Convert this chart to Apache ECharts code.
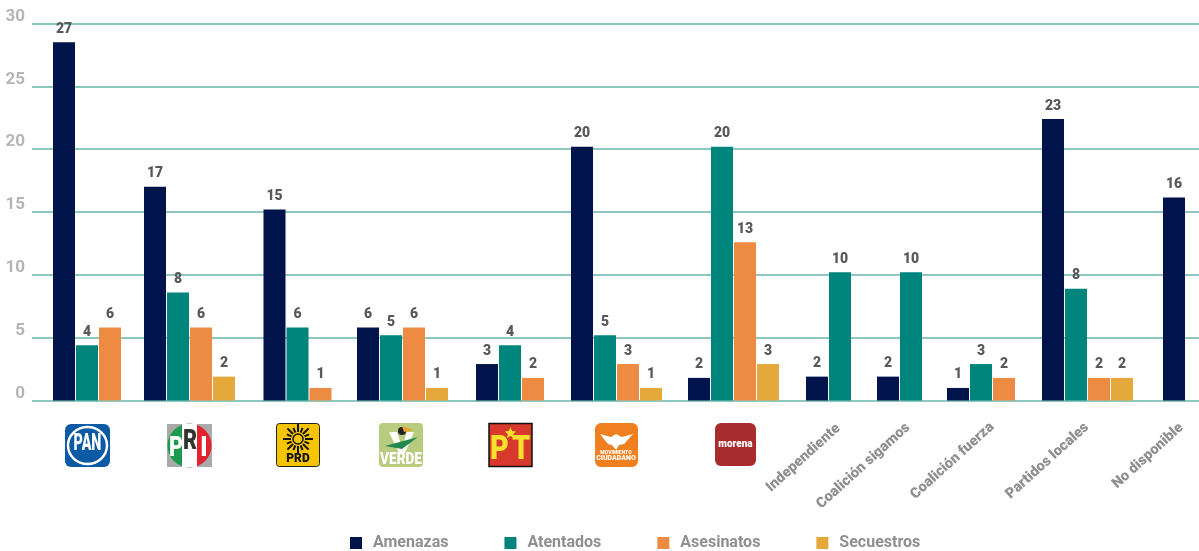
<!DOCTYPE html>
<html><head><meta charset="utf-8">
<style>html,body{margin:0;padding:0;background:#fff}#c{width:1199px;height:551px}</style>
<script src="https://cdn.jsdelivr.net/npm/echarts@6/dist/echarts.min.js"></script>
</head><body><div id="c"></div>
<script>
// Groups (parties / coalitions)
const categories = ['PAN','PRI','PRD','VERDE','PT','Movimiento Ciudadano','morena','Independiente','Coalición sigamos','Coalición fuerza','Partidos locales','No disponible'];
// Bar heights
const amenazas   = [28.5,17.0,15.2,5.8,2.9,20.2,1.8,1.9,1.9,1.0,22.4,16.15];
const atentados  = [4.4,8.6,5.8,5.2,4.4,5.2,20.2,10.2,10.2,2.9,8.9,null];
const asesinatos = [5.8,5.8,1.0,5.8,1.8,2.9,12.6,null,null,1.8,1.8,null];
const secuestros = [null,1.9,null,1.0,null,1.0,2.9,null,null,null,1.8,null];
// Values as printed above the bars
const amenazasPrinted   = [27,17,15,6,3,20,2,2,2,1,23,16];
const atentadosPrinted  = [4,8,6,5,4,5,20,10,10,3,8,null];
const asesinatosPrinted = [6,6,1,6,2,3,13,null,null,2,2,null];
const secuestrosPrinted = [null,2,null,1,null,1,3,null,null,null,2,null];
const yTicks = [0,5,10,15,20,25,30];

// Layout (x axis is a plain scale in which one unit = one pixel)
const groupStart = [53,144,263.5,357,476,571,688,806,877,947,1042,1163];
const pitch = 23, barW = 22;
const names = ['Amenazas','Atentados','Asesinatos','Secuestros'];
const colors = ['#00134a','#00857c','#ee8b43','#e5a93b'];
const heights = [amenazas,atentados,asesinatos,secuestros];
const printed = [amenazasPrinted,atentadosPrinted,asesinatosPrinted,secuestrosPrinted];

const seriesData = names.map(()=>[]);
categories.forEach((c,i)=>{
  let k=0;
  heights.forEach((h,s)=>{
    if(h[i]!=null){
      seriesData[s].push({value:[groupStart[i]+k*pitch+barW/2,h[i]],printed:printed[s][i]});
      k++;
    }
  });
});

const chart = echarts.init(document.getElementById('c'),null,{renderer:'canvas'});
const F='Roboto, sans-serif';
const deg=d=>d*Math.PI/180;

// Logo lettering; sx squeezes the letters horizontally to get the condensed look
function logoText(t,x,y,size,fill,sx){
  return {type:'text',silent:true,x:x,y:y,scaleX:sx||1,style:{text:t,fill:fill,font:'900 '+size+'px '+F,textAlign:'center',textVerticalAlign:'middle'}};
}
function rr(x,y,w,h,r,fill,extra){
  return {type:'rect',silent:true,shape:{x,y,width:w,height:h,r},style:Object.assign({fill},extra||{})};
}
const g=[];
// PAN
g.push(rr(65,424,45,43,6,'#0b5aa6'));
g.push({type:'ellipse',silent:true,shape:{cx:87.5,cy:445.5,rx:19.5,ry:18.5},style:{fill:'none',stroke:'#fff',lineWidth:2.5}});
g.push(logoText('PAN',87.5,444.5,23,'#fff',0.62));
// PRI
g.push(rr(167,424,45,43,0,'#a9a9aa'));
g.push({type:'sector',silent:true,shape:{cx:189.5,cy:445.5,r:22,startAngle:deg(90),endAngle:deg(270)},style:{fill:'#1d9a4e'}});
g.push({type:'sector',silent:true,shape:{cx:189.5,cy:445.5,r:22,startAngle:deg(-90),endAngle:deg(90)},style:{fill:'#e2222e'}});
g.push(rr(182,424,15,43,0,'#fff'));
g.push(logoText('P',176,449,27,'#fff',0.8));
g.push(logoText('R',190,442,27,'#33332e',0.8));
g.push(logoText('I',204,449,27,'#fff',0.9));
// PRD
g.push(rr(276.5,423.5,43,43,3,'#f6c400',{stroke:'#222',lineWidth:1}));
for(let a=0;a<16;a++){
  const r=deg(a*22.5);
  g.push({type:'line',silent:true,shape:{x1:298+7*Math.cos(r),y1:439+7*Math.sin(r),x2:298+(a%2?12:15)*Math.cos(r),y2:439+(a%2?12:15)*Math.sin(r)},style:{stroke:'#111',lineWidth:2}});
}
g.push({type:'circle',silent:true,shape:{cx:298,cy:439,r:5},style:{fill:'none',stroke:'#111',lineWidth:1.5}});
g.push(logoText('PRD',298,459,12,'#111'));
// VERDE
g.push(rr(379,423,44,44,4,'#b8cb7e'));
g.push({type:'polygon',silent:true,shape:{points:[[389,432],[397,432],[402,447],[407,432],[414,432],[405,453],[399,453]]},style:{fill:'#fff'}});
g.push({type:'polygon',silent:true,shape:{points:[[385,446],[418,437],[402,449]]},style:{fill:'#1f8a4c'}});
g.push({type:'circle',silent:true,shape:{cx:402,cy:431,r:4},style:{fill:'#222'}});
g.push({type:'polygon',silent:true,shape:{points:[[402,426],[414,430],[404,432]]},style:{fill:'#e8a22a'}});
g.push(logoText('VERDE',401,459.5,16,'#fff',0.85));
// PT
g.push(rr(489,423.5,43,43,0,'#d73a2c',{stroke:'#111',lineWidth:1.5}));
g.push({type:'polygon',silent:true,shape:{points:[[510.5,427.5],[512.2,431.1],[516.1,431.5],[513.2,434.1],[514,438],[510.5,436],[507,438],[507.8,434.1],[504.9,431.5],[508.8,431.1]]},style:{fill:'#f5e12a'}});
g.push(logoText('P',499.5,450,34,'#f5e12a',0.85));
g.push(logoText('T',521,450,34,'#f5e12a',0.85));
// Movimiento Ciudadano
g.push(rr(595,423,43,44,6,'#f0801f'));
g.push({type:'polygon',silent:true,shape:{points:[[600,434],[611,437],[616,434],[622,437],[633,434],[624,444],[619,445],[616,450],[612,445],[608,444]]},style:{fill:'#fff'}});
g.push(logoText('MOVIMIENTO',616,453,5,'#fff'));
g.push(logoText('CIUDADANO',616,458,7,'#fff'));
// morena
g.push(rr(715,423,41,43,6,'#a82b2e'));
g.push(logoText('morena',735.5,444,10,'#fff'));
// Rotated text categories
[[7,803.5,458],[8,863.5,466],[9,952.5,461],[10,1047.5,461],[11,1148,456]].forEach(([i,x,y])=>{
  g.push({type:'text',silent:true,x:x,y:y,rotation:deg(42),style:{text:categories[i],fill:'#8f8f93',font:'900 14.5px '+F,textAlign:'center',textVerticalAlign:'middle'}});
});

chart.setOption({
  animation:false,
  backgroundColor:'#fff',
  grid:{left:32,right:0,top:23.5,bottom:150.5,containLabel:false},
  xAxis:{type:'value',min:32,max:1199,show:true,axisLine:{show:false},axisTick:{show:false},axisLabel:{show:false},splitLine:{show:false}},
  yAxis:{type:'value',min:0,max:30,interval:5,
    axisLine:{show:false},axisTick:{show:false},
    axisLabel:{color:'#b5b5b9',fontFamily:F,fontWeight:'bold',fontSize:17,margin:7,verticalAlign:'bottom',lineHeight:14,
      formatter:v=>yTicks.includes(v)?String(v):''},
    splitLine:{show:true,lineStyle:{color:'#8cc8bf',width:2}}},
  legend:{left:345,top:530,icon:'rect',itemWidth:12,itemHeight:12,itemGap:56,selectedMode:false,
    textStyle:{color:'#8f8f93',fontFamily:F,fontWeight:'bold',fontSize:16,padding:[0,0,0,6]},data:names},
  series:names.map((n,s)=>({
    name:n,type:'bar',barWidth:barW,barGap:'-100%',
    itemStyle:{color:colors[s]},
    data:seriesData[s],
    label:{show:true,position:'top',distance:6,color:'#58595b',fontFamily:F,fontWeight:'900',fontSize:14,
      formatter:p=>String(p.data.printed)}
  })),
  graphic:{elements:g}
});
</script></body></html>
